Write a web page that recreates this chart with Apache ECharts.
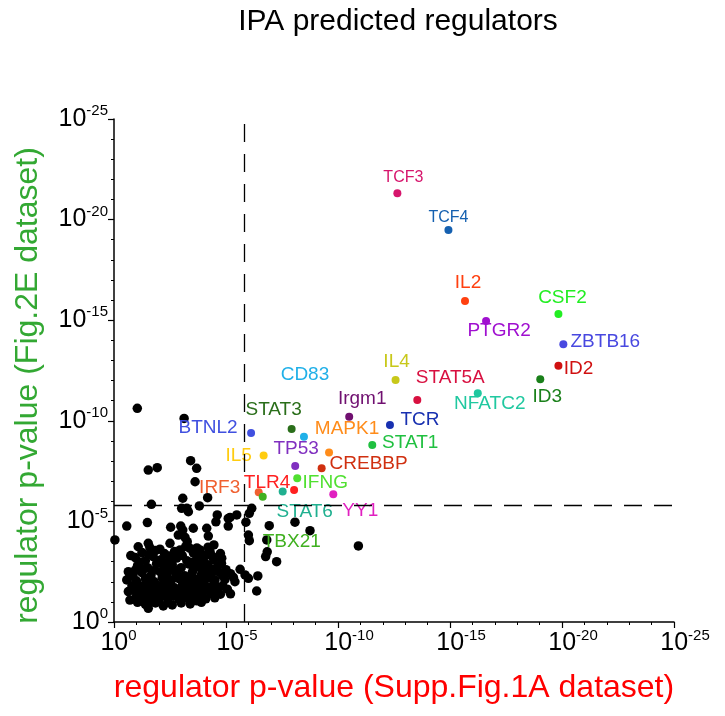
<!DOCTYPE html>
<html><head><meta charset="utf-8">
<script src="https://cdn.jsdelivr.net/npm/echarts@6/dist/echarts.min.js"></script>
<style>html,body{margin:0;padding:0;background:#fff}#c{width:725px;height:716px}</style>
</head><body><div id="c"></div>
<script>
// -log10(p) values
const genes = ['TCF3','TCF4','IL2','CSF2','PTGR2','ZBTB16','ID2','ID3','IL4','STAT5A','NFATC2','Irgm1','TCR','STAT1','CD83','MAPK1','STAT3','BTNL2','IL5','TP53','CREBBP','IFNG','TLR4','STAT6','IRF3','TBX21','YY1'];
const geneX = [12.65,14.93,15.67,19.84,16.61,20.06,19.84,19.03,12.57,13.54,16.24,10.50,12.32,11.53,8.48,9.60,7.93,6.12,6.68,8.09,9.27,8.18,8.04,7.53,6.46,6.64,9.79];
const geneY = [21.31,19.48,15.95,15.31,14.96,13.80,12.74,12.06,12.03,11.03,11.37,10.20,9.79,8.80,9.21,8.42,9.59,9.39,8.28,7.75,7.64,7.14,6.56,6.48,6.45,6.23,6.35];

const blackX = [1.04,3.13,3.42,3.69,1.53,1.93,3.62,3.07,4.18,1.67,3.02,3.25,3.32,3.81,4.61,5.18,5.48,6.15,6.04,5.89,5.10,8.08,6.93,8.75,6.00,6.04,6.84,6.77,7.26,10.91,4.81,5.63,5.85,6.00,5.33,5.40,6.42,5.06,6.37,0.04,0.57,1.49,2.53,2.98,3.07,3.54,4.14,4.55,5.10,2.87,3.17,3.27,4.21,4.46,1.08,1.53,2.50,2.95,3.39,3.84,4.29,4.66,4.14,4.58,4.51,0.64,0.57,0.64,0.71,1.53,1.53,6.82,
 1.25,1.85,2.25,2.70,3.05,3.55,3.95,4.40,
 0.95,1.40,1.75,2.10,2.45,2.80,3.25,3.70,4.05,4.45,
 1.05,1.50,1.90,2.25,2.60,3.00,3.35,3.75,4.20,4.60,
 0.85,1.25,1.65,2.05,2.35,2.75,3.15,3.50,3.90,4.35,4.85,
 1.00,1.40,1.80,2.15,2.55,2.90,3.25,3.65,4.00,
 0.80,1.20,1.60,1.95,2.35,2.70,3.05,3.45,3.85,4.25,
 1.00,1.35,1.75,2.10,2.50,2.85,3.20,3.55,3.95,4.35,4.75,
 1.20,1.60,2.00,2.40,2.90,3.30,3.70,4.10,
 1.40,1.85,2.60,3.40,2.20,
 1.60,2.05,3.20,3.70,4.20,
 0.75,1.55,2.45,2.95,4.15,4.75,
 1.15,1.95,2.60,3.45,3.90,4.80,
 0.95,1.30,1.75,2.45,2.85,3.55,3.95,4.40,5.00,
 0.70,1.55,2.35,2.75,3.45,4.20,4.95,5.20,
 1.00,1.40,2.20,2.55,3.25,3.60,4.05,4.45,4.85,
 0.90,1.15,1.55,1.95,2.30,2.65,3.00,3.40,3.75,4.15,4.60,5.20,
 1.00,1.40,1.80,2.20,2.65,3.10,3.50,3.90,4.50,
 1.05,1.60,2.40,3.00,3.90];
const blackY = [10.62,10.12,8.02,7.64,7.55,7.67,6.97,6.15,6.18,5.85,5.65,5.65,5.48,5.77,5.32,5.20,5.32,5.65,5.40,4.96,5.15,4.96,4.79,4.54,4.32,4.04,3.49,3.25,3.00,3.78,3.17,2.62,2.34,2.17,2.22,2.00,2.29,1.63,1.54,4.08,4.77,4.94,4.71,4.77,4.57,4.66,4.66,4.98,4.77,4.32,4.21,3.99,4.27,3.83,3.74,3.91,3.91,3.58,3.66,3.58,3.49,2.50,2.50,1.75,2.09,2.50,2.09,1.51,1.09,1.09,0.68,4.08,
 3.45,3.55,3.40,3.50,3.30,3.42,3.30,3.25,
 3.20,3.05,3.25,3.10,3.00,3.18,3.05,3.15,2.95,3.10,
 2.80,2.70,2.90,2.75,2.85,2.70,2.88,2.78,2.82,2.72,
 2.35,2.45,2.30,2.50,2.35,2.42,2.30,2.48,2.35,2.40,2.30,
 2.05,2.15,2.00,2.20,2.05,2.15,1.98,2.12,2.00,
 1.80,1.72,1.88,1.75,1.85,1.70,1.82,1.72,1.80,1.70,
 1.45,1.38,1.50,1.40,1.52,1.36,1.48,1.40,1.50,1.42,1.38,
 1.15,1.22,1.08,1.20,1.12,1.18,1.05,1.15,
 0.88,0.95,0.85,0.90,0.80,
 3.70,3.62,3.75,3.68,3.72,
 3.30,3.35,3.28,3.45,3.35,3.40,
 2.98,3.02,3.12,2.96,3.05,2.92,
 2.58,2.62,2.55,2.62,2.58,2.62,2.55,2.62,2.60,
 2.25,2.18,2.12,2.22,2.18,2.20,2.10,2.40,
 1.95,1.90,1.92,1.80,1.90,1.95,1.85,1.90,1.80,
 1.62,1.55,1.62,1.58,1.62,1.56,1.60,1.56,1.62,1.58,1.60,1.40,
 1.25,1.30,1.28,1.30,1.28,1.30,1.25,1.32,1.20,
 0.98,1.00,0.98,0.95,0.98];

const tickValues = [0,5,10,15,20,25];
const thresholdX = 5.8;
const thresholdY = 5.8;

// styling (not data)
const geneColors = ['#d6156c','#1560b0','#ff4010','#22ee22','#a010d0','#4848e0','#d01010','#1a801a','#c8c81a','#d81040','#20c8a0','#701070','#1830b0','#20c040','#20b0e8','#ff8c1a','#2a6e1a','#4050e0','#ffcc10','#8030c0','#d03010','#50e030','#ff2020','#20b090','#f06030','#40b020','#e020c0'];
const labelOffsets = {TCF3:[6,-16],TCF4:[0,-12],IL2:[3,-18],CSF2:[4,-16],PTGR2:[13,10],ZBTB16:[42,-3],ID2:[20,3],ID3:[7,17],IL4:[1,-18],STAT5A:[33,-22],NFATC2:[12,11],Irgm1:[13,-18],TCR:[30,-5],STAT1:[38,-2],CD83:[1,-62],MAPK1:[18,-24],STAT3:[-18,-19],BTNL2:[-43,-5],IL5:[-25,0],TP53:[1,-17],CREBBP:[47,-5],IFNG:[28,4],TLR4:[-27,-7],STAT6:[22,20],IRF3:[-39,-4],TBX21:[29,45],YY1:[27,17]};
const smallLabels = {TCF3:true,TCF4:true};

const FONT = "'Liberation Sans', Arial, Helvetica, sans-serif";
const DOT = 8;

const geneData = genes.map((g,i)=>({
  value:[geneX[i],geneY[i]],
  name:g,
  itemStyle:{color:geneColors[i],opacity:1},
  label:{show:true,position:[DOT/2+labelOffsets[g][0],DOT/2+labelOffsets[g][1]],
    align:'center',verticalAlign:'middle',formatter:g,color:geneColors[i],
    fontSize:smallLabels[g]?16:19,fontFamily:FONT}
}));
const blackData = blackX.map((x,i)=>[x,blackY[i]]);

function supFmt(v){
  return v===0 ? '{p0|}{b|10}{s|0}' : '{p|}{b|10}{s|-'+v+'}';
}
function supFmtY(v){
  return v===0 ? '{b|10}{s|0}' : '{b|10}{s|-'+v+'}';
}
const rich = {
  b:{fontSize:25,fontFamily:FONT,color:'#000'},
  s:{fontSize:15,fontFamily:FONT,color:'#000',padding:[0,0,16,0]},
  p:{width:22},
  p0:{width:9}
};

const axisCommon = {
  type:'value',min:0,max:25,interval:5,
  splitLine:{show:false},
  axisLine:{show:true,onZero:false,lineStyle:{color:'#000',width:1.5}},
  axisTick:{show:true,inside:false,length:6,lineStyle:{color:'#000',width:1.2}},
  minorTick:{show:true,splitNumber:5,length:3,lineStyle:{color:'#000',width:1}},
};

const chart = echarts.init(document.getElementById('c'),null,{renderer:'canvas'});
chart.setOption({
  animation:false,
  backgroundColor:'#fff',
  title:{text:'IPA predicted regulators',left:393,top:2,textAlign:'center',
    textStyle:{fontSize:30,fontWeight:'normal',fontFamily:FONT,color:'#000'}},
  grid:{left:114,right:51,top:119,bottom:94,containLabel:false},
  xAxis:Object.assign({},axisCommon,{
    name:'regulator p-value (Supp.Fig.1A dataset)',nameLocation:'middle',nameGap:50,
    nameTextStyle:{fontSize:32,color:'#ff0000',fontFamily:FONT},
    axisLabel:{margin:6,formatter:supFmt,rich:rich}
  }),
  yAxis:Object.assign({},axisCommon,{
    name:'regulator p-value (Fig.2E dataset)',nameLocation:'middle',nameGap:70,
    nameTextStyle:{fontSize:32,color:'#33a833',fontFamily:FONT,padding:[0,30,0,0]},
    axisLabel:{margin:6,formatter:supFmtY,rich:rich}
  }),
  series:[
    {type:'scatter',data:blackData,symbolSize:9.5,itemStyle:{color:'#000',opacity:1},z:2,silent:true,
      markLine:{silent:true,symbol:['none','none'],label:{show:false},
        lineStyle:{color:'#000',width:1.3,type:[18,12]},
        data:[{xAxis:thresholdX},{yAxis:thresholdY}]}},
    {type:'scatter',data:geneData,symbolSize:DOT,z:3,silent:true}
  ]
});
</script>
</body></html>
